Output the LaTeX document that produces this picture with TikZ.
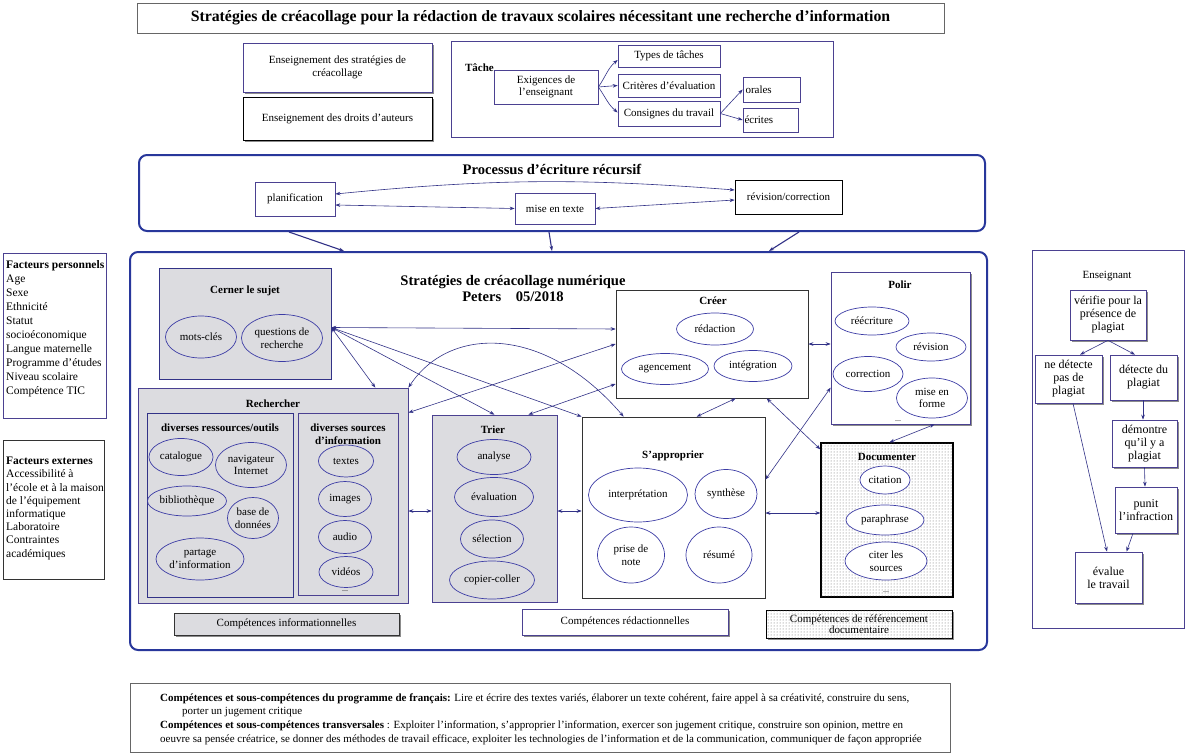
\documentclass[tikz,border=0pt]{standalone}
\usepackage{fontspec}
\setmainfont{Liberation Serif}
\usetikzlibrary{shapes.geometric,arrows.meta,patterns,shadows}
\definecolor{ln}{RGB}{50,50,135}
\definecolor{el}{RGB}{60,60,165}
\definecolor{bd}{RGB}{75,65,145}
\definecolor{gr}{RGB}{220,220,224}
\definecolor{fr}{RGB}{40,55,155}
\newcommand\mybox[7]{\node[#1,minimum width={(#5-#3)*1pt},minimum height={(#6-#4)*1pt}] (#2) at ({(#3+#5)/2},{(#4+#6)/2}) {#7};}
\newcommand\fsz[2]{\fontsize{#1}{#2}\selectfont}
\begin{document}
\begin{tikzpicture}[x=1pt,y=-1pt,
 box/.style={draw=bd,line width=0.7pt,fill=white,inner sep=1pt,align=center,font=\fsz{11}{12.5}},
 gbox/.style={box,fill=gr},
 ell/.style={ellipse,draw=el,line width=0.7pt,inner sep=0pt,align=center,font=\fsz{11}{12.5}},
 lab/.style={font=\bfseries\fsz{11}{13},align=center,inner sep=0pt},
 arr/.style={draw=ln,line width=0.6pt,-{Stealth[length=5pt,width=3.6pt]}},
 darr/.style={draw=ln,line width=0.6pt,{Stealth[length=5pt,width=3.6pt]}-{Stealth[length=5pt,width=3.6pt]}},
 shd/.style={drop shadow={shadow xshift=1.5pt,shadow yshift=-1.5pt,fill=black!45,opacity=1}},
 dotted fill/.style={fill=white,postaction={pattern=dots,pattern color=black!60}},
 eb/.style={box,shd,font=\fsz{12}{13}}
]
\useasboundingbox (0,0) rectangle (1187,755);
\fill[white] (0,0) rectangle (1187,755);

% title
\mybox{box,draw=black!60,font=\bfseries\fsz{15.8}{17}}{title}{137}{3}{944}{33}{Stratégies de créacollage pour la rédaction de travaux scolaires nécessitant une recherche d’information}

\mybox{box,shd}{ens1}{243}{43}{432}{92}{Enseignement des stratégies de\\créacollage}
\mybox{box,draw=black,shd}{ens2}{243}{97}{432}{140}{Enseignement des droits d’auteurs}

% task
\mybox{box}{task}{451}{41}{833}{137}{}
\node[lab,anchor=east] (tache) at (494,68) {Tâche};
\mybox{box}{exig}{494}{70}{598}{104}{Exigences de\\l’enseignant}
\mybox{box}{types}{618}{45}{720}{67}{Types de tâches}
\mybox{box}{crit}{618}{74}{720}{97}{Critères d’évaluation}
\mybox{box}{cons}{618}{101}{720}{126}{Consignes du travail}
\mybox{box,text width=52pt,align=left}{orales}{743}{77}{800}{102}{orales}
\mybox{box,text width=52pt,align=left}{ecrites}{743}{108}{798}{132}{écrites}
\draw[arr] (exig.east) to[out=55,in=-140] ([yshift=-4pt]types.west);
\draw[arr] (exig.east) -- (crit.west);
\draw[arr] (exig.east) to[out=-55,in=140] ([yshift=1pt]cons.west);
\draw[arr] (cons.east) -- (orales.west);
\draw[arr] (cons.east) -- (ecrites.west);

% process
\mybox{box,draw=fr,line width=2pt,rounded corners=8pt,fill=none}{proc}{139}{155}{985}{231}{}
\node[lab,font=\bfseries\fsz{14.6}{16}] (proct) at (552,169) {Processus d’écriture récursif};
\mybox{box}{plan}{255}{182}{335}{216}{planification}
\mybox{box}{mise}{515}{193}{595}{224}{mise en texte}
\mybox{box,draw=black}{rev}{735}{180}{842}{214}{révision/correction}
\draw[darr] ([yshift=5pt]plan.east) to[bend left=5] ([yshift=7pt]rev.west);
\draw[darr] ([yshift=-6pt]plan.east) -- (mise.west);
\draw[darr] (mise.east) -- ([yshift=-3pt]rev.west);

% main frame
\mybox{box,draw=fr,line width=2pt,rounded corners=8pt,fill=none}{main}{130}{252}{987}{650}{}
\node[lab,font=\bfseries\fsz{14.6}{16}] (maint) at (513,288) {Stratégies de créacollage numérique\\Peters\quad 05/2018};
\draw[arr,line width=1.1pt] ([xshift=151pt]proc.south west) -- ([xshift=215pt]main.north west);
\draw[arr,line width=1.1pt] ([xshift=411pt]proc.south west) -- ([xshift=423pt]main.north west);
\draw[arr,line width=1.1pt] ([xshift=661pt]proc.south west) -- ([xshift=640pt]main.north west);

% Cerner
\mybox{gbox,draw=ln}{cerner}{159}{268}{331}{379}{}
\node[lab] (cernert) at (245,291) {Cerner le sujet};
\node[ell,minimum width=71pt,minimum height=42pt] (motscles) at (201,337) {mots-clés};
\node[ell,minimum width=81pt,minimum height=47pt] (questions) at (282,338) {questions de\\recherche};

% Rechercher
\mybox{gbox}{rech}{138}{388}{408}{603}{}
\node[lab] (recht) at (273,404) {Rechercher};
\mybox{gbox,draw=ln}{res}{147}{413}{293}{597}{}
\node[lab] (rest) at (220,428) {diverses ressources/outils};
\node[ell,minimum width=64pt,minimum height=37pt] (catalogue) at (181,457) {catalogue};
\node[ell,minimum width=71pt,minimum height=45pt] (navig) at (251,465) {navigateur\\Internet};
\node[ell,minimum width=79pt,minimum height=30pt] (biblio) at (187,501) {bibliothèque};
\node[ell,minimum width=51pt,minimum height=41pt] (base) at (253,518) {base de\\données};
\node[ell,minimum width=88pt,minimum height=42pt] (partage) at (200,559) {partage\\d'information};
\mybox{gbox}{src}{298}{413}{398}{595}{}
\node[lab] (srct) at (348,434) {diverses sources\\d'information};
\node[ell,minimum width=55pt,minimum height=32pt] (textes) at (346,461) {textes};
\node[ell,minimum width=53pt,minimum height=35pt] (images) at (345,499) {images};
\node[ell,minimum width=53pt,minimum height=33pt] (audio) at (345,537) {audio};
\node[ell,minimum width=54pt,minimum height=31pt] (videos) at (346,572) {vidéos};
\node[font=\fsz{8}{9},inner sep=0pt] (srcdots) at (345,591) {...};
\mybox{gbox,draw=black!80,shd}{compinfo}{174}{613}{399}{635}{Compétences informationnelles}

% Trier
\mybox{gbox}{trier}{432}{415}{557}{602}{}
\node[lab] (triert) at (493,430) {Trier};
\node[ell,minimum width=74pt,minimum height=35pt] (analyse) at (494,457) {analyse};
\node[ell,minimum width=79pt,minimum height=39pt] (evaluation) at (494,497) {évaluation};
\node[ell,minimum width=63pt,minimum height=38pt] (selection) at (492,539) {sélection};
\node[ell,minimum width=85pt,minimum height=38pt] (copier) at (492,580) {copier-coller};

% S'approprier
\mybox{box,draw=black!80}{sapp}{582}{417}{765}{598}{}
\node[lab] (sappt) at (673,456) {S’approprier};
\node[ell,minimum width=99pt,minimum height=54pt] (interp) at (638,495) {interprétation};
\node[ell,minimum width=62pt,minimum height=49pt] (synth) at (726,494) {synthèse};
\node[ell,minimum width=67pt,minimum height=56pt] (prise) at (631,555) {prise de\\note};
\node[ell,minimum width=66pt,minimum height=56pt] (resume) at (719,555) {résumé};
\mybox{box,shd}{comprd}{522}{609}{728}{635}{Compétences rédactionnelles}

% Creer
\mybox{box,draw=black!80}{creer}{616}{290}{808}{398}{}
\node[lab] (creert) at (713,301) {Créer};
\node[ell,minimum width=77pt,minimum height=32pt] (redaction) at (715,329) {rédaction};
\node[ell,minimum width=87pt,minimum height=31pt] (agenc) at (665,369) {agencement};
\node[ell,minimum width=78pt,minimum height=31pt] (integr) at (753,366) {intégration};

% Polir
\mybox{box,shd}{polir}{831}{272}{970}{424}{}
\node[lab] (polirt) at (900,285) {Polir};
\node[ell,minimum width=74pt,minimum height=28pt] (reecr) at (872,321) {réécriture};
\node[ell,minimum width=70pt,minimum height=28pt] (revis) at (931,347) {révision};
\node[ell,minimum width=70pt,minimum height=35pt] (correc) at (868,374) {correction};
\node[ell,minimum width=71pt,minimum height=40pt] (miseforme) at (932,398) {mise en\\forme};
\node[font=\fsz{8}{9},inner sep=0pt] (polirdots) at (898,421) {...};

% Documenter
\mybox{box,draw=black,line width=1.2pt,dotted fill}{doc}{821}{443}{953}{597}{}
\node[lab] (doct) at (887,457) {Documenter};
\node[ell,fill=white,minimum width=50pt,minimum height=28pt] (citation) at (885,480) {citation};
\node[ell,fill=white,minimum width=78pt,minimum height=30pt] (paraph) at (885,520) {paraphrase};
\node[ell,fill=white,minimum width=82pt,minimum height=38pt] (citer) at (886,561) {citer les\\sources};
\node[font=\fsz{8}{9},inner sep=0pt] (docdots) at (886,592) {...};
\mybox{box,draw=black,dotted fill,shd,font=\fsz{11}{11}}{compref}{766}{610}{952}{638}{Compétences de référencement\\documentaire}

% connectors in main
\coordinate (cE) at ([yshift=-4pt]cerner.east);
\coordinate (y511) at (0,511);
\coordinate (y513) at (0,513);
\draw[darr] (cE) -- ([yshift=15pt]creer.west);
\draw[darr] (cE) -- ([xshift=-33pt]rech.north east);
\draw[darr] (cE) -- (trier.north);
\draw[darr] (cE) -- (sapp.north west);
\draw[darr] (rech.north east) .. controls (450,325) and (545,325) .. ([xshift=42pt]sapp.north west);
\draw[darr] ([yshift=-25pt]rech.north east) -- (creer.west);
\draw[darr] ([xshift=-29pt]trier.north east) -- ([yshift=-40pt]creer.west);
\draw[darr] (rech.east |- y511) -- (trier.west |- y511);
\draw[darr] (trier.east |- y511) -- (sapp.west |- y511);
\draw[darr] ([xshift=115pt]sapp.north west) -- ([xshift=120pt]creer.south west);
\draw[darr] ([xshift=151pt]creer.south west) -- ([yshift=-7pt]doc.north west);
\draw[darr] ([yshift=-63pt]sapp.north east) -- ([yshift=-116pt]polir.north west);
\draw[darr] (sapp.east |- y513) -- (doc.west |- y513);
\draw[darr] ([xshift=104pt]polir.south west) -- ([xshift=69pt]doc.north west);
\draw[darr] (creer.east) -- (polir.west |- creer.east);

% Facteurs
\mybox{box}{fp}{3}{253}{106}{418}{}
\node[anchor=north west,align=left,font=\fsz{11.5}{14},inner sep=0pt] (fpt) at (6,260) {\textbf{Facteurs personnels}\\Age\\Sexe\\Ethnicité\\Statut\\socioéconomique\\Langue maternelle\\Programme d’études\\Niveau scolaire\\Compétence TIC};
\mybox{box,draw=black!80}{fe}{3}{440}{104}{579}{}
\node[anchor=north west,align=left,font=\fsz{11.5}{13.2},inner sep=0pt] (fet) at (6,457) {\textbf{Facteurs externes}\\Accessibilité à\\l’école et à la maison\\de l’équipement\\informatique\\Laboratoire\\Contraintes\\académiques};

% Enseignant
\mybox{box}{ensg}{1032}{250}{1184}{628}{}
\node[font=\fsz{11}{12}] (ensgt) at (1107,276) {Enseignant};
\mybox{eb}{verif}{1070}{290}{1146}{340}{vérifie pour la\\présence de\\plagiat}
\mybox{eb}{nedet}{1035}{355}{1102}{403}{ne détecte\\pas de\\plagiat}
\mybox{eb}{detect}{1110}{355}{1177}{400}{détecte du\\plagiat}
\mybox{eb}{dem}{1112}{420}{1177}{467}{démontre\\qu’il y a\\plagiat}
\mybox{eb}{punit}{1115}{487}{1177}{533}{punit\\l’infraction}
\mybox{eb}{eval}{1075}{552}{1142}{603}{évalue\\le travail}
\draw[arr] (verif.south) -- ([xshift=11.5pt]nedet.north);
\draw[arr] (verif.south) -- ([xshift=-8.5pt]detect.north);
\draw[arr] ([xshift=-0.5pt]detect.south) -- ([xshift=-1.5pt]dem.north);
\draw[arr] (dem.south) -- ([xshift=-1pt]punit.north);
\draw[arr] ([xshift=-13pt]punit.south) -- ([xshift=18pt]eval.north);
\draw[arr] ([xshift=4.5pt]nedet.south) -- ([xshift=-1.5pt]eval.north);

% bottom
\mybox{box,draw=black!60}{bottom}{130}{683}{950}{752}{}
\node[anchor=west,font=\fsz{11}{12},inner sep=0pt] (b1) at (160,699) {\textbf{Compétences et sous-compétences du programme de français:} Lire et écrire des textes variés, élaborer un texte cohérent, faire appel à sa créativité, construire du sens,};
\node[anchor=west,font=\fsz{11}{12},inner sep=0pt] (b2) at (182,712) {porter un jugement critique};
\node[anchor=west,font=\fsz{11}{12},inner sep=0pt] (b3) at (160,726) {\textbf{Compétences et sous-compétences transversales} : Exploiter l’information, s’approprier l’information, exercer son jugement critique, construire son opinion, mettre en};
\node[anchor=west,font=\fsz{11}{12},inner sep=0pt] (b4) at (160,740) {oeuvre sa pensée créatrice, se donner des méthodes de travail efficace, exploiter les technologies de l’information et de la communication, communiquer de façon appropriée};
\end{tikzpicture}
\end{document}
